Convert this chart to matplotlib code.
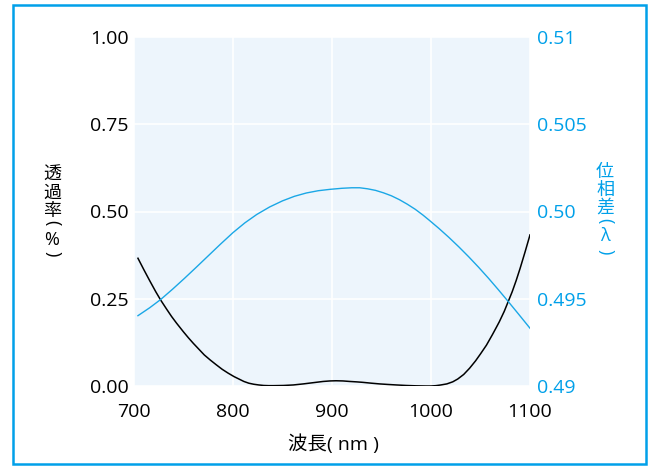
import matplotlib
matplotlib.use("Agg")
import matplotlib.pyplot as plt
from matplotlib.patches import Rectangle

plt.rcParams['font.family'] = ['Open Sans', 'Noto Sans CJK JP', 'DejaVu Sans']

blue = '#00a0e9'

# transmission (left axis)
wl_t = [704, 710, 716, 722, 727, 733, 738, 743, 750, 755, 760, 766, 771, 777,
        783, 789, 795, 801, 806, 811, 816, 821, 826, 831, 836, 841, 851, 861,
        871, 881, 891, 898, 904, 911, 918, 925, 931, 940, 948, 956, 965, 975,
        985, 995, 1000, 1005, 1010, 1016, 1022, 1027, 1033, 1039, 1045, 1050,
        1056, 1062, 1066, 1069, 1074, 1078, 1082, 1086, 1090, 1095, 1100]
trans = [0.366, 0.333, 0.301, 0.270, 0.246, 0.220, 0.199, 0.180, 0.155, 0.138,
         0.122, 0.104, 0.089, 0.0745, 0.061, 0.048, 0.037, 0.027, 0.020, 0.013,
         0.008, 0.005, 0.003, 0.0015, 0.001, 0.001, 0.0015, 0.003, 0.006, 0.0095,
         0.013, 0.0145, 0.015, 0.0145, 0.013, 0.0118, 0.0105, 0.008, 0.006,
         0.0045, 0.003, 0.0015, 0.0005, 0.0, 0.0, 0.001, 0.003, 0.006, 0.012,
         0.020, 0.033, 0.051, 0.072, 0.092, 0.117, 0.147, 0.168, 0.184, 0.214,
         0.242, 0.270, 0.302, 0.337, 0.384, 0.433]

# retardation (right axis)
wl_r = [704, 716, 727, 739, 751, 763, 775, 787, 800, 812, 824, 837, 850, 862,
        874, 886, 898, 910, 920, 928, 936, 944, 952, 960, 968, 976, 984, 992,
        998, 1008, 1018, 1028, 1038, 1048, 1058, 1068, 1077, 1088, 1100]
retard = [0.49403, 0.49449, 0.49496, 0.49555, 0.49617, 0.49681, 0.49746,
          0.49811, 0.49879, 0.49935, 0.49983, 0.50026, 0.50061, 0.50087,
          0.50106, 0.50119, 0.50127, 0.50133, 0.50136, 0.50136, 0.50130,
          0.50121, 0.50107, 0.50090, 0.50068, 0.50042, 0.50013, 0.49979,
          0.49951, 0.49903, 0.49852, 0.49798, 0.49741, 0.49681, 0.49618,
          0.49552, 0.49491, 0.49415, 0.49331]

xticks = [700, 800, 900, 1000, 1100]
lticks = [0, 0.25, 0.5, 0.75, 1.0]
lticklabels = ['0.00', '0.25', '0.50', '0.75', '1.00']
rticks = [0.49, 0.495, 0.50, 0.505, 0.51]
rticklabels = ['0.49', '0.495', '0.50', '0.505', '0.51']

# vertical axis titles; brackets are turned to read top-to-bottom
left_label = ['透', '過', '率', '(', '%', ')']
right_label = ['位', '相', '差', '(', 'λ', ')']
turned = [0, 0, 0, -90, 0, -90]

W, H = 655, 466
fig = plt.figure(figsize=(6.55, 4.66), dpi=100)
ax = fig.add_axes([134 / W, 1 - 386 / H, 396 / W, 349 / H])
ax.set_facecolor('#edf5fc')
ax.plot(wl_t, trans, color='black', lw=1.1)
ax.set_xlim(700, 1100)
ax.set_ylim(0, 1)
ax.set_xticks(xticks)
ax.set_yticks(lticks)
ax.set_yticklabels(lticklabels)
ax.grid(True, color='white', lw=1.2)
ax.set_axisbelow(True)
ax.tick_params(length=0, labelsize=14)
ax.tick_params(axis='x', pad=12)
ax.tick_params(axis='y', pad=4)
for s in ax.spines.values():
    s.set_visible(False)

ax2 = ax.twinx()
ax2.plot(wl_r, retard, color='#1aa7e6', lw=1.0)
ax2.set_ylim(0.49, 0.51)
ax2.set_yticks(rticks)
ax2.set_yticklabels(rticklabels)
ax2.tick_params(length=0, labelsize=14, labelcolor=blue, pad=5)
for s in ax2.spines.values():
    s.set_visible(False)

fig.text(333 / W, 1 - 444 / H, '波長( nm )', ha='center', va='center', fontsize=14)

ly = [175, 193, 211, 223, 240, 254]
ry = [172, 190, 208, 221, 236, 252]
for ch, y, r in zip(left_label, ly, turned):
    fig.text(52 / W, 1 - y / H, ch, ha='center', va='center', fontsize=13,
             rotation=r)
for ch, y, r in zip(right_label, ry, turned):
    fig.text(605 / W, 1 - y / H, ch, ha='center', va='center', fontsize=13,
             rotation=r, color=blue)

fig.patches.append(Rectangle((13 / W, 1 - 464 / H), 633 / W, 459 / H,
                             transform=fig.transFigure, fill=False,
                             edgecolor=blue, lw=1.8))

fig.savefig('out.png', dpi=100)
